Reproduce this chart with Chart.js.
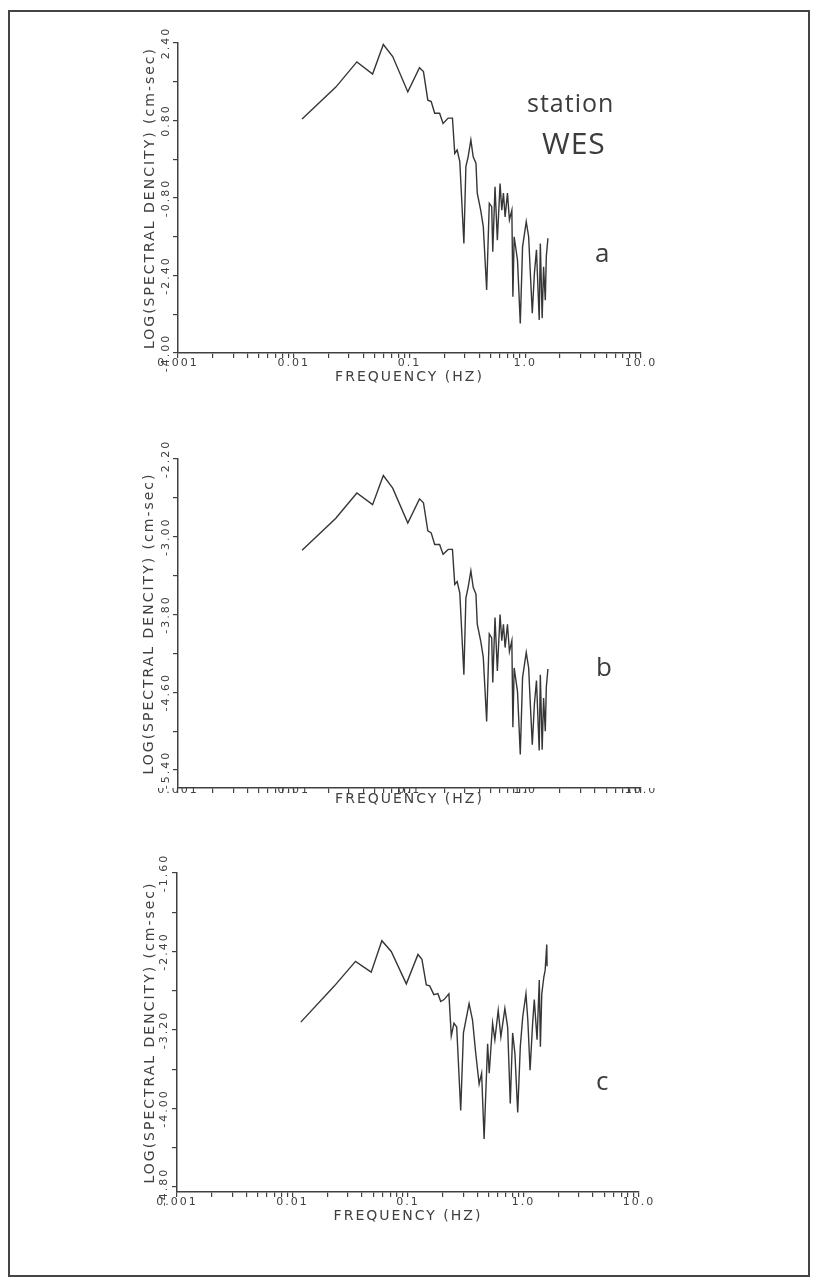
<!DOCTYPE html>
<html><head><meta charset="utf-8">
<script src="https://cdn.jsdelivr.net/npm/chart.js@4.4.1/dist/chart.umd.min.js"></script>
<style>
html,body{margin:0;padding:0;background:#fff;}
body{width:823px;height:1283px;position:relative;overflow:hidden;}
canvas{position:absolute;left:0;}
#frame{position:absolute;left:8px;top:10px;width:802px;height:1267px;border:2px solid #444;box-sizing:border-box;}
.lbl{position:absolute;font-family:'Open Sans',sans-serif;color:#3c3c3c;line-height:1;white-space:nowrap;}
</style></head><body>
<div id="frame"></div>
<canvas id="ca" width="823" height="410" style="top:0px"></canvas>
<canvas id="cb" width="823" height="420" style="top:410px"></canvas>
<canvas id="cc" width="823" height="453" style="top:830px"></canvas>
<div class="lbl" style="left:527px;top:90px;font-size:25px;letter-spacing:1px">station</div>
<div class="lbl" style="left:542px;top:128px;font-size:30px;letter-spacing:1px">WES</div>
<div class="lbl" style="left:595px;top:239px;font-size:26px">a</div>
<div class="lbl" style="left:596px;top:653px;font-size:26px">b</div>
<div class="lbl" style="left:596px;top:1067px;font-size:26px">c</div>
<script>
// ---- data (frequency in Hz, log spectral density) ----
const freqAB = [0.0118,0.0231,0.0351,0.048,0.0594,0.0716,0.0967,0.122,0.132,0.144,0.154,0.165,0.182,0.195,0.216,0.235,0.246,0.258,0.272,0.295,0.307,0.321,0.339,0.355,0.375,0.385,0.412,0.434,0.464,0.489,0.513,0.524,0.548,0.574,0.606,0.627,0.648,0.670,0.702,0.730,0.766,0.782,0.802,0.857,0.906,0.948,1.02,1.07,1.10,1.15,1.20,1.25,1.32,1.35,1.40,1.44,1.49,1.52,1.57];
const valA = [0.83,1.49,2.01,1.76,2.37,2.12,1.39,1.89,1.81,1.22,1.19,0.95,0.95,0.74,0.85,0.85,0.12,0.19,-0.05,-1.74,-0.15,0.05,0.40,0.05,-0.08,-0.70,-1.05,-1.39,-2.70,-0.91,-0.98,-1.91,-0.57,-1.67,-0.50,-1.05,-0.70,-1.19,-0.70,-1.25,-1.05,-2.84,-1.60,-2.08,-3.39,-1.81,-1.29,-1.60,-2.22,-3.18,-2.35,-1.87,-3.32,-1.74,-3.28,-2.22,-2.91,-2.01,-1.63];
const valB = [-3.14,-2.81,-2.55,-2.67,-2.37,-2.50,-2.86,-2.61,-2.65,-2.94,-2.96,-3.08,-3.08,-3.18,-3.13,-3.13,-3.49,-3.46,-3.58,-4.42,-3.63,-3.52,-3.35,-3.52,-3.59,-3.90,-4.07,-4.24,-4.90,-4.00,-4.04,-4.50,-3.83,-4.38,-3.80,-4.07,-3.90,-4.14,-3.90,-4.18,-4.07,-4.96,-4.35,-4.59,-5.24,-4.45,-4.19,-4.35,-4.66,-5.14,-4.72,-4.48,-5.20,-4.42,-5.19,-4.66,-5.00,-4.55,-4.36];
const freqC = [0.0118,0.0231,0.0351,0.048,0.0594,0.0716,0.0967,0.122,0.132,0.144,0.154,0.1675,0.1815,0.192,0.205,0.226,0.237,0.250,0.264,0.286,0.302,0.338,0.362,0.386,0.413,0.434,0.456,0.489,0.505,0.540,0.565,0.604,0.637,0.690,0.729,0.768,0.805,0.843,0.891,0.938,0.984,1.05,1.09,1.14,1.20,1.24,1.31,1.37,1.40,1.44,1.50,1.54,1.59,1.60];
const valC = [-3.12,-2.75,-2.50,-2.61,-2.29,-2.40,-2.73,-2.43,-2.48,-2.74,-2.75,-2.84,-2.83,-2.91,-2.89,-2.83,-3.26,-3.13,-3.17,-4.02,-3.23,-2.93,-3.10,-3.44,-3.75,-3.64,-4.31,-3.34,-3.64,-3.13,-3.30,-3.00,-3.27,-2.98,-3.17,-3.95,-3.23,-3.44,-4.04,-3.37,-3.07,-2.83,-3.10,-3.61,-3.13,-2.89,-3.30,-2.69,-3.37,-2.83,-2.66,-2.59,-2.33,-2.55];

// ---- tick labels ----
const xDecades = [0.001,0.01,0.1,1,10];
const xDecadeLabels = ['0.001','0.01','0.1','1.0','10.0'];
const xMinorMult = [1,2,3,4,5,6,7,8,9];
const yTicksA = [-4.0,-3.2,-2.4,-1.6,-0.8,0,0.8,1.6,2.4];
const yLabelsA = ['-4.00','','-2.40','','-0.80','','0.80','','2.40'];
const yTicksB = [-5.4,-5.0,-4.6,-4.2,-3.8,-3.4,-3.0,-2.6,-2.2];
const yLabelsB = ['-5.40','','-4.60','','-3.80','','-3.00','','-2.20'];
const yTicksC = [-4.8,-4.4,-4.0,-3.6,-3.2,-2.8,-2.4,-2.0,-1.6];
const yLabelsC = ['-4.80','','-4.00','','-3.20','','-2.40','','-1.60'];

const xTickValues = [];
xDecades.forEach((d, i) => {
  if (i === xDecades.length - 1) { xTickValues.push(d); return; }
  xMinorMult.forEach(m => xTickValues.push(+(d * m).toPrecision(6)));
});
function xLabelFor(v) {
  for (let i = 0; i < xDecades.length; i++) {
    if (Math.abs(v - xDecades[i]) < xDecades[i] * 1e-6) return xDecadeLabels[i];
  }
  return '';
}

const INK = '#404040';
const spacing = {
  id: 'spacing',
  beforeDraw(chart) { try { chart.ctx.letterSpacing = '2px'; } catch (e) {} },
  afterDraw(chart) { try { chart.ctx.letterSpacing = '0px'; } catch (e) {} }
};

function makeChart(id, freqs, vals, o) {
  new Chart(document.getElementById(id), {
    type: 'line',
    data: { datasets: [{
      data: freqs.map((f, i) => ({ x: f, y: vals[i] })),
      borderColor: '#363636', borderWidth: 1.4, pointRadius: 0, tension: 0, fill: false
    }]},
    options: {
      responsive: false, animation: false,
      layout: { padding: { left: o.padL, right: o.padR, top: o.padT, bottom: o.padB } },
      plugins: { legend: { display: false }, tooltip: { enabled: false } },
      scales: {
        x: {
          type: 'logarithmic', min: 0.001, max: 10, position: 'bottom',
          afterBuildTicks: s => { s.ticks = xTickValues.map(v => ({ value: v })); },
          afterFit: s => { s.height = o.xH; },
          grid: { drawOnChartArea: false, drawTicks: true, tickLength: 5, color: INK, lineWidth: 1.2 },
          border: { display: true, color: INK, width: 1.5 },
          ticks: { autoSkip: false, maxRotation: 0, minRotation: 0, padding: o.xPad, color: INK,
                   font: { family: 'DejaVu Sans', size: 11 }, callback: v => xLabelFor(v) },
          title: { display: true, text: 'FREQUENCY (HZ)', color: INK, padding: 0,
                   font: { family: 'DejaVu Sans', size: 14 } }
        },
        y: {
          type: 'linear', min: o.yMin, max: o.yMax, position: 'left',
          afterBuildTicks: s => { s.ticks = o.yTicks.map(v => ({ value: v })); },
          afterFit: s => { s.width = o.yW; },
          grid: { drawOnChartArea: false, drawTicks: true, tickLength: 5, color: INK, lineWidth: 1.2 },
          border: { display: true, color: INK, width: 1.5 },
          ticks: { autoSkip: false, minRotation: 90, maxRotation: 90, crossAlign: 'center', padding: o.yPad,
                   color: INK, font: { family: 'DejaVu Sans', size: 11 },
                   callback: (v, i) => o.yLabels[i] },
          title: { display: true, text: 'LOG(SPECTRAL DENCITY) (cm-sec)', color: INK, padding: 0,
                   font: { family: 'DejaVu Sans', size: 14 } }
        }
      }
    },
    plugins: [spacing]
  });
}

makeChart('ca', freqAB, valA, { padL: 142, yW: 36, padR: 182, padT: 43, padB: 24, xH: 33, xPad: -1, yPad: -7,
  yMin: -4.0, yMax: 2.4, yTicks: yTicksA, yLabels: yLabelsA });
makeChart('cb', freqAB, valB, { padL: 141, yW: 37, padR: 182, padT: 49, padB: 22, xH: 20, xPad: -9, yPad: -7,
  yMin: -5.585, yMax: -2.2, yTicks: yTicksB, yLabels: yLabelsB });
makeChart('cc', freqC, valC, { padL: 142, yW: 35, padR: 184, padT: 43, padB: 58, xH: 33, xPad: -1, yPad: -6,
  yMin: -4.851, yMax: -1.6, yTicks: yTicksC, yLabels: yLabelsC });
</script>
</body></html>
